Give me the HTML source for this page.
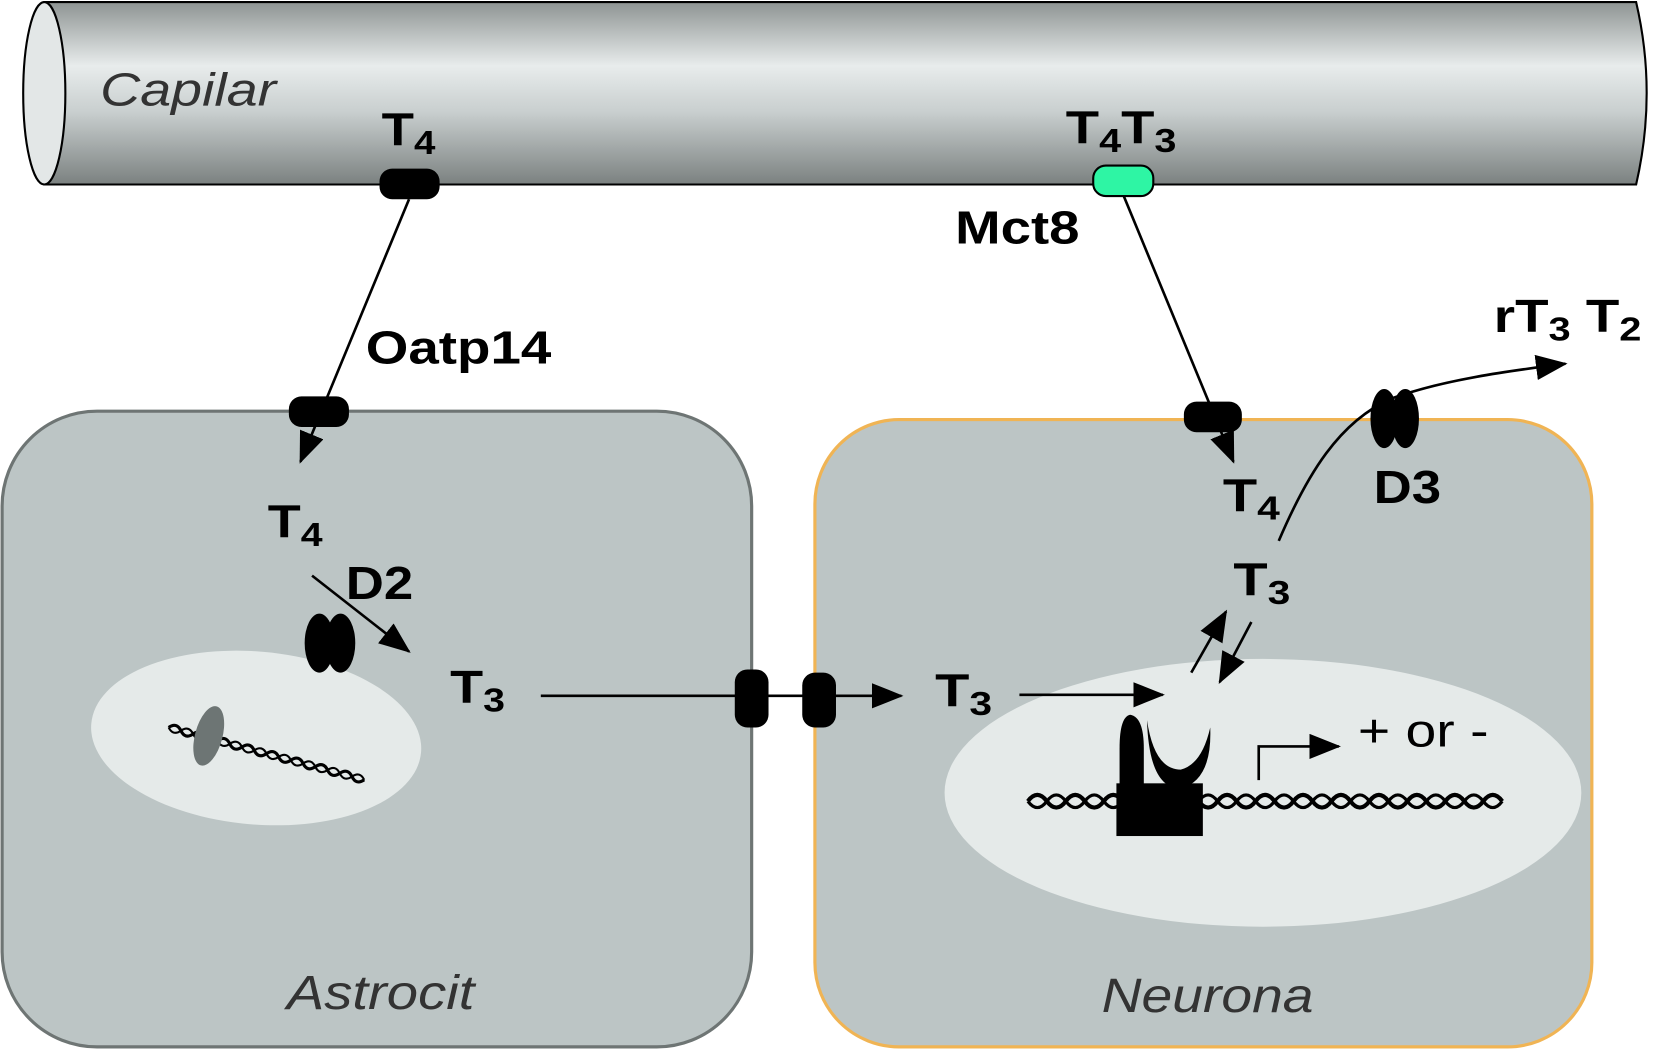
<!DOCTYPE html>
<html><head><meta charset="utf-8"><style>html,body{margin:0;padding:0;background:#fff}svg{display:block}</style></head>
<body>
<svg width="1653" height="1049" viewBox="0 0 1568 995" preserveAspectRatio="none" xmlns="http://www.w3.org/2000/svg" font-family="Liberation Sans, sans-serif">
<defs>
<linearGradient id="cap" x1="0" y1="0" x2="0" y2="1">
<stop offset="0" stop-color="#8e9493"/><stop offset="0.35" stop-color="#e8ecec"/><stop offset="0.6" stop-color="#c9cfcf"/><stop offset="1" stop-color="#7b8180"/>
</linearGradient>
<marker id="ab" markerWidth="30" markerHeight="24" refX="28" refY="12" orient="auto" markerUnits="userSpaceOnUse"><path d="M0,0 L30,12 L0,24 z" fill="#000"/></marker>
</defs>
<path d="M42,2 H1552 Q1572,88 1552,175 H42 Z" fill="url(#cap)" stroke="#000" stroke-width="2"/>
<ellipse cx="42" cy="88.5" rx="20" ry="86.5" fill="#e3e7e7" stroke="#000" stroke-width="2"/>
<text x="95" y="100" font-size="44" font-style="italic" fill="#333" textLength="167" lengthAdjust="spacingAndGlyphs">Capilar</text>
<rect x="2" y="390" width="711" height="603" rx="90" fill="#bcc5c5" stroke="#6e7574" stroke-width="3"/>
<rect x="773" y="398" width="737" height="595" rx="80" fill="#bcc5c5" stroke="#f0b454" stroke-width="3"/>
<ellipse cx="243" cy="700" rx="157" ry="82" transform="rotate(5 243 700)" fill="#e5eae9"/>
<ellipse cx="1198" cy="752" rx="302" ry="127" fill="#e5eae9"/>
<text x="272" y="957" font-size="46" font-style="italic" fill="#333" textLength="178" lengthAdjust="spacingAndGlyphs">Astrocit</text>
<text x="1045" y="960" font-size="46" font-style="italic" fill="#333" textLength="201" lengthAdjust="spacingAndGlyphs">Neurona</text>
<rect x="360" y="160" width="57" height="29" rx="12" fill="#000"/>
<rect x="1037" y="157" width="57" height="29" rx="12" fill="#2ef5a4" stroke="#000" stroke-width="2"/>
<rect x="274" y="376" width="57" height="29" rx="12" fill="#000"/>
<rect x="1123" y="381" width="55" height="29" rx="12" fill="#000"/>
<ellipse cx="303" cy="610" rx="14" ry="28" fill="#000"/><ellipse cx="323" cy="610" rx="14" ry="28" fill="#000"/>
<ellipse cx="1313" cy="397" rx="13" ry="28" fill="#000"/><ellipse cx="1333" cy="397" rx="13" ry="28" fill="#000"/>
<rect x="697" y="635" width="32" height="55" rx="12" fill="#000"/>
<rect x="761" y="638" width="32" height="52" rx="12" fill="#000"/>
<line x1="388" y1="189" x2="285" y2="438" stroke="#000" stroke-width="2.5" marker-end="url(#ab)"/>
<line x1="1066" y1="186" x2="1170" y2="438" stroke="#000" stroke-width="2.5" marker-end="url(#ab)"/>
<line x1="296" y1="546" x2="388" y2="618" stroke="#000" stroke-width="2.5" marker-end="url(#ab)"/>
<line x1="513" y1="660" x2="855" y2="660" stroke="#000" stroke-width="2.5" marker-end="url(#ab)"/>
<line x1="967" y1="659" x2="1103" y2="659" stroke="#000" stroke-width="2.5" marker-end="url(#ab)"/>
<line x1="1130" y1="638" x2="1163" y2="580" stroke="#000" stroke-width="2.5" marker-end="url(#ab)"/>
<line x1="1187" y1="590" x2="1157" y2="647" stroke="#000" stroke-width="2.5" marker-end="url(#ab)"/>
<path d="M1213,513 C1240,450 1270,400 1320,378 C1370,360 1430,352 1485,345" fill="none" stroke="#000" stroke-width="2.5" marker-end="url(#ab)"/>
<path d="M1194,740 V708 H1270" fill="none" stroke="#000" stroke-width="2.5" marker-end="url(#ab)"/>
<g transform="rotate(15 160 690)">
<path d="M160,690 q6,-7 12,0 t12,0 t12,0 t12,0 t12,0 t12,0 t12,0 t12,0 t12,0 t12,0 t12,0 t12,0 t12,0 t12,0 t12,0 t12,0" fill="none" stroke="#000" stroke-width="3"/>
<path d="M160,690 q6,7 12,0 t12,0 t12,0 t12,0 t12,0 t12,0 t12,0 t12,0 t12,0 t12,0 t12,0 t12,0 t12,0 t12,0 t12,0 t12,0" fill="none" stroke="#000" stroke-width="2"/>
</g>
<ellipse cx="198" cy="698" rx="13" ry="29" transform="rotate(15 198 698)" fill="#6d7574"/>
<path d="M975,760 q9,-12 18,0 t18,0 t18,0 t18,0 t18,0 t18,0 t18,0 t18,0 t18,0 t18,0 t18,0 t18,0 t18,0 t18,0 t18,0 t18,0 t18,0 t18,0 t18,0 t18,0 t18,0 t18,0 t18,0 t18,0 t18,0" fill="none" stroke="#000" stroke-width="4"/>
<path d="M975,760 q9,12 18,0 t18,0 t18,0 t18,0 t18,0 t18,0 t18,0 t18,0 t18,0 t18,0 t18,0 t18,0 t18,0 t18,0 t18,0 t18,0 t18,0 t18,0 t18,0 t18,0 t18,0 t18,0 t18,0 t18,0 t18,0" fill="none" stroke="#000" stroke-width="3"/>
<rect x="1059" y="743" width="82" height="50" fill="#000"/>
<path d="M1062,745 V710 Q1062,680 1072,678 Q1085,680 1085,710 V745 Z" fill="#000"/>
<path d="M1088,683 Q1095,730 1120,730 Q1140,725 1148,690 Q1150,740 1120,748 Q1090,748 1088,683 Z" fill="#000"/>
<g font-weight="bold" fill="#000" lengthAdjust="spacingAndGlyphs">
<text x="362" y="138" font-size="44" textLength="51" lengthAdjust="spacingAndGlyphs">T<tspan font-size="32" dy="8">4</tspan></text>
<text x="1011" y="136" font-size="44" textLength="105" lengthAdjust="spacingAndGlyphs">T<tspan font-size="32" dy="8">4</tspan><tspan dy="-8">T</tspan><tspan font-size="32" dy="8">3</tspan></text>
<text x="906" y="231" font-size="44" textLength="118" lengthAdjust="spacingAndGlyphs">Mct8</text>
<text x="347" y="345" font-size="44" textLength="176" lengthAdjust="spacingAndGlyphs">Oatp14</text>
<text x="1417" y="315" font-size="44" textLength="140" lengthAdjust="spacingAndGlyphs">rT<tspan font-size="32" dy="8">3</tspan><tspan dy="-8"> T</tspan><tspan font-size="32" dy="8">2</tspan></text>
<text x="254" y="510" font-size="44" textLength="52" lengthAdjust="spacingAndGlyphs">T<tspan font-size="32" dy="8">4</tspan></text>
<text x="328" y="568" font-size="44" textLength="64" lengthAdjust="spacingAndGlyphs">D2</text>
<text x="427" y="667" font-size="44" textLength="52" lengthAdjust="spacingAndGlyphs">T<tspan font-size="32" dy="8">3</tspan></text>
<text x="887" y="670" font-size="44" textLength="54" lengthAdjust="spacingAndGlyphs">T<tspan font-size="32" dy="8">3</tspan></text>
<text x="1160" y="485" font-size="44" textLength="54" lengthAdjust="spacingAndGlyphs">T<tspan font-size="32" dy="8">4</tspan></text>
<text x="1303" y="477" font-size="44" textLength="64" lengthAdjust="spacingAndGlyphs">D3</text>
<text x="1170" y="565" font-size="44" textLength="54" lengthAdjust="spacingAndGlyphs">T<tspan font-size="32" dy="8">3</tspan></text>
</g>
<text x="1288" y="708" font-size="44" fill="#000" textLength="124" lengthAdjust="spacingAndGlyphs">+ or -</text>
</svg>
</body></html>
